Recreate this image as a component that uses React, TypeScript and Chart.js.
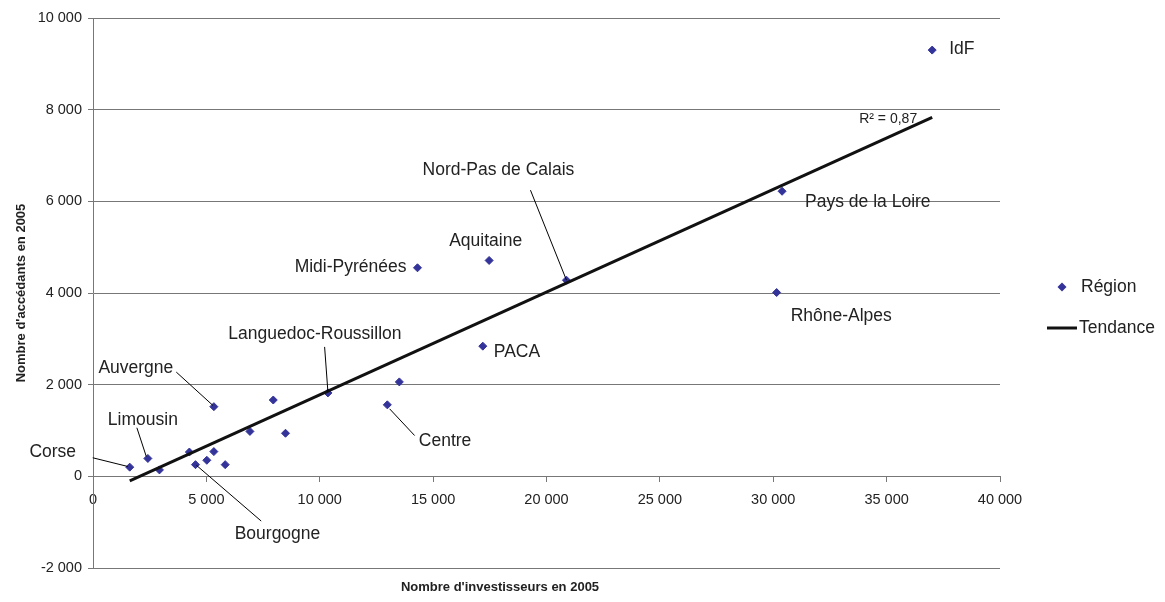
import React, { useEffect, useRef } from 'react';
import { Chart, registerables } from 'chart.js';

Chart.register(...registerables);

const FONT = "'Liberation Sans', Arial, Helvetica, sans-serif";

// ---- Data ----
const regionLabels = [
  'IdF', 'Pays de la Loire', 'Rhône-Alpes', 'Nord-Pas de Calais', 'Aquitaine',
  'Midi-Pyrénées', 'PACA', 'Languedoc-Roussillon', '', 'Centre',
  'Auvergne', '', '', '', 'Corse',
  'Limousin', '', '', 'Bourgogne', '',
  '', '',
];
const investors = [
  37010, 30390, 30150, 20880, 17470,
  14310, 17190, 10360, 13510, 12980,
  5330, 7950, 6920, 8490, 1620,
  2420, 2930, 4250, 4520, 5020,
  5330, 5830,
];
const accedants = [
  9300, 6220, 4010, 4280, 4710,
  4550, 2840, 1820, 2060, 1560,
  1520, 1665, 980, 940, 200,
  390, 140, 530, 255, 350,
  540, 255,
];
const trendInvestors = [1620, 37010];
const trendAccedants = [-100, 7830];
const rSquaredText = 'R² = 0,87';
const seriesNames = ['Région', 'Tendance'];
const xAxisTitle = "Nombre d'investisseurs en 2005";
const yAxisTitle = "Nombre d'accédants en 2005";
const xRange = [0, 40000];
const yRange = [-2000, 10000];
const xStep = 5000;
const yStep = 2000;

// ---- Label placement (pixel offsets from each point) ----
type Placement = { name: string; dx: number; dy: number; align: CanvasTextAlign; leader?: number[] };
const labelPlacement: Placement[] = [
  { name: 'IdF', dx: 17, dy: -1, align: 'left' },
  { name: 'Pays de la Loire', dx: 23, dy: 11, align: 'left' },
  { name: 'Rhône-Alpes', dx: 14, dy: 24, align: 'left' },
  { name: 'Nord-Pas de Calais', dx: -68, dy: -110, align: 'center', leader: [-36, -90, 0, 0] },
  { name: 'Aquitaine', dx: -3.5, dy: -19, align: 'center' },
  { name: 'Midi-Pyrénées', dx: -11, dy: -0.5, align: 'right' },
  { name: 'PACA', dx: 11, dy: 6, align: 'left' },
  { name: 'Languedoc-Roussillon', dx: -13, dy: -59, align: 'center', leader: [-3.3, -46, 0, -1] },
  { name: 'Centre', dx: 31.5, dy: 36.5, align: 'left', leader: [2.3, 4, 27.3, 30.7] },
  { name: 'Auvergne', dx: -78, dy: -38, align: 'center', leader: [-37.6, -34.6, -1, -1.3] },
  { name: 'Limousin', dx: -5, dy: -38, align: 'center', leader: [-11, -30.7, -1.6, -2] },
  { name: 'Corse', dx: -77, dy: -15, align: 'center', leader: [-37, -9.4, -2, -0.7] },
  { name: 'Bourgogne', dx: 82, dy: 70, align: 'center', leader: [1, 0.7, 65.7, 56.4] },
];

const fmt = (v: number) => {
  const s = Math.abs(v).toString().replace(/\B(?=(\d{3})+(?!\d))/g, ' ');
  return (v < 0 ? '-' : '') + s;
};

const pointLabelsPlugin = {
  id: 'pointLabels',
  beforeDatasetsDraw(chart: any) {
    const ctx = chart.ctx;
    const tm = chart.getDatasetMeta(1);
    const last = tm.data[tm.data.length - 1];
    if (!last) return;
    ctx.save();
    ctx.font = `14px ${FONT}`;
    ctx.fillStyle = '#222';
    ctx.textAlign = 'left';
    ctx.textBaseline = 'middle';
    ctx.fillText(rSquaredText, last.x - 73, last.y + 2);
    ctx.restore();
  },
  afterDatasetsDraw(chart: any) {
    const ctx = chart.ctx;
    const meta = chart.getDatasetMeta(0);
    ctx.save();
    ctx.font = `17.5px ${FONT}`;
    ctx.fillStyle = '#222';
    ctx.textBaseline = 'middle';
    ctx.strokeStyle = '#000';
    ctx.lineWidth = 1;
    for (const p of labelPlacement) {
      const i = regionLabels.indexOf(p.name);
      const el = meta.data[i];
      if (!el) continue;
      const { x, y } = el;
      if (p.leader) {
        ctx.beginPath();
        ctx.moveTo(x + p.leader[0], y + p.leader[1]);
        ctx.lineTo(x + p.leader[2], y + p.leader[3]);
        ctx.stroke();
      }
      ctx.textAlign = p.align;
      ctx.fillText(p.name, x + p.dx, y + p.dy);
    }
    ctx.restore();
  },
};

const sideLegendPlugin = {
  id: 'sideLegend',
  afterDraw(chart: any) {
    const { ctx, chartArea } = chart;
    const ds = chart.data.datasets;
    const baseX = chartArea.right + 47;
    const rows = [287, 328];
    ctx.save();
    ctx.font = `17.5px ${FONT}`;
    ctx.textBaseline = 'middle';
    ctx.textAlign = 'left';
    ds.forEach((d: any, i: number) => {
      const y = rows[i];
      if (d.showLine) {
        ctx.strokeStyle = d.borderColor;
        ctx.lineWidth = d.borderWidth;
        ctx.beginPath();
        ctx.moveTo(baseX, y);
        ctx.lineTo(baseX + 30, y);
        ctx.stroke();
        ctx.fillStyle = '#222';
        ctx.fillText(d.label, baseX + 32, y);
      } else {
        const cx = baseX + 15;
        const r = 4.5;
        ctx.fillStyle = d.backgroundColor;
        ctx.beginPath();
        ctx.moveTo(cx - r, y);
        ctx.lineTo(cx, y - r);
        ctx.lineTo(cx + r, y);
        ctx.lineTo(cx, y + r);
        ctx.closePath();
        ctx.fill();
        ctx.fillStyle = '#222';
        ctx.fillText(d.label, baseX + 34, y);
      }
    });
    ctx.restore();
  },
};

export default function App() {
  const canvasRef = useRef<HTMLCanvasElement | null>(null);

  useEffect(() => {
    const canvas = canvasRef.current;
    if (!canvas) return;
    const pts = investors.map((x, i) => ({ x, y: accedants[i] }));
    const trend = trendInvestors.map((x, i) => ({ x, y: trendAccedants[i] }));
    const gridColor = '#777';
    const tickFont = { family: FONT, size: 14.5 };
    const titleFont = { family: FONT, size: 13, weight: 'bold' as const };

    const chart = new Chart(canvas, {
      type: 'scatter',
      data: {
        datasets: [
          {
            label: seriesNames[0],
            data: pts,
            pointStyle: 'rectRot',
            pointRadius: 4,
            pointBorderWidth: 1,
            backgroundColor: '#333399',
            borderColor: '#333399',
            showLine: false,
            order: 1,
          } as any,
          {
            label: seriesNames[1],
            data: trend,
            showLine: true,
            borderColor: '#111',
            borderWidth: 3,
            pointRadius: 0,
            backgroundColor: '#111',
            order: 0,
          } as any,
        ],
      },
      options: {
        responsive: false,
        animation: false,
        events: [],
        layout: { padding: { left: 0, top: 18, right: 165, bottom: 0 } },
        plugins: {
          legend: { display: false },
          tooltip: { enabled: false },
        },
        scales: {
          x: {
            type: 'linear',
            min: xRange[0],
            max: xRange[1],
            position: { y: 0 } as any,
            afterFit: (s: any) => { s.height = 0; },
            ticks: {
              stepSize: xStep,
              callback: (v: any) => fmt(Number(v)),
              font: tickFont,
              color: '#222',
              padding: 10,
              maxRotation: 0,
              autoSkip: false,
            },
            grid: { drawOnChartArea: false, drawTicks: true, tickLength: 5, color: gridColor },
            border: { color: gridColor },
          },
          xTitle: {
            type: 'linear',
            axis: 'x',
            position: 'bottom',
            fullSize: true,
            min: xRange[0],
            max: xRange[1],
            afterFit: (s: any) => { s.height = 34; },
            ticks: { display: false },
            grid: { display: false, drawTicks: false },
            border: { display: false },
            title: {
              display: true,
              text: xAxisTitle,
              font: titleFont,
              color: '#222',
              padding: { top: 0, bottom: 7 },
            },
          } as any,
          y: {
            type: 'linear',
            min: yRange[0],
            max: yRange[1],
            position: 'left',
            afterFit: (s: any) => { s.width = 93; },
            ticks: {
              stepSize: yStep,
              callback: (v: any) => fmt(Number(v)),
              font: tickFont,
              color: '#222',
              padding: 6,
            },
            grid: { color: gridColor, tickLength: 5 },
            border: { color: gridColor },
            title: {
              display: true,
              text: yAxisTitle,
              font: titleFont,
              color: '#222',
              padding: { top: 13.5, bottom: 0 },
            },
          },
        },
      },
      plugins: [pointLabelsPlugin, sideLegendPlugin],
    });
    return () => chart.destroy();
  }, []);

  return (
    <div style={{ position: 'fixed', left: 0, top: 0, width: 1165, height: 602, background: '#fff' }}>
      <canvas ref={canvasRef} width={1165} height={602} style={{ display: 'block' }} />
    </div>
  );
}
